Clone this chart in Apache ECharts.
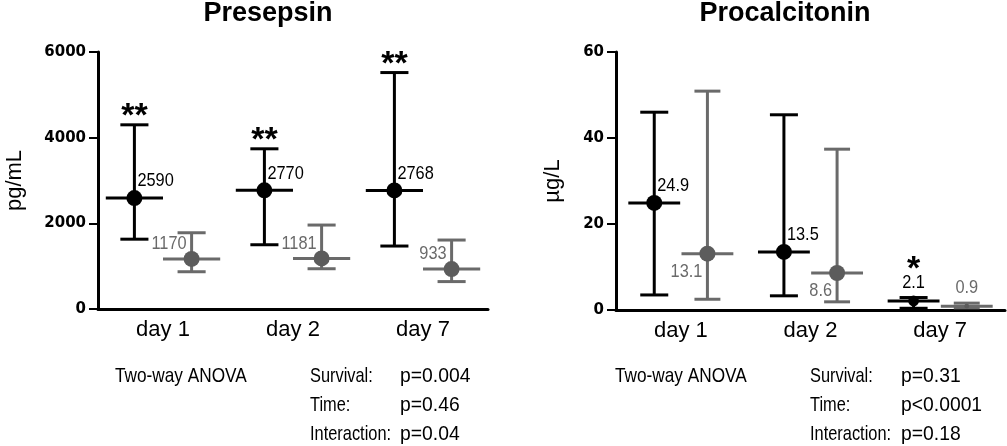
<!DOCTYPE html>
<html><head><meta charset="utf-8">
<script src="https://cdn.jsdelivr.net/npm/echarts@6.0.0/dist/echarts.min.js"></script>
<style>html,body{margin:0;padding:0;background:#fff}#c{width:1007px;height:446px}</style>
</head><body><div id="c"></div>
<script>
// ---------- data ----------
const categories = ['day 1', 'day 2', 'day 7'];

const presepsinBlackMedian = [2590, 2770, 2768];
const presepsinBlackLower  = [1630, 1500, 1470];
const presepsinBlackUpper  = [4300, 3740, 5520];
const presepsinGrayMedian  = [1170, 1181, 933];
const presepsinGrayLower   = [870, 940, 640];
const presepsinGrayUpper   = [1780, 1960, 1610];
const presepsinStars       = ['**', '**', '**'];

const pctBlackMedian = [24.9, 13.5, 2.1];
const pctBlackLower  = [3.5, 3.3, 0.4];
const pctBlackUpper  = [46.0, 45.4, 2.9];
const pctGrayMedian  = [13.1, 8.6, 0.9];
const pctGrayLower   = [2.5, 1.9, 0.5];
const pctGrayUpper   = [50.9, 37.4, 1.6];
const pctStars       = ['', '', '*'];

const titles = ['Presepsin', 'Procalcitonin'];
const unitNames = ['pg/mL', 'µg/L'];
const anovaHeader = 'Two-way ANOVA';
const anovaTerms = ['Survival:', 'Time:', 'Interaction:'];
const presepsinP = ['p=0.004', 'p=0.46', 'p=0.04'];
const pctP = ['p=0.31', 'p<0.0001', 'p=0.18'];

// ---------- styles ----------
const SANS = "'Liberation Sans',Arial,sans-serif";
const BOLDTICK = "'DejaVu Sans',sans-serif";
const LABEL_SCALE = 0.86;
const BLACK = '#000000', GRAY_LINE = '#6a6a6a', GRAY_DOT = '#5c5c5c', GRAY_TEXT = '#6a6a6a';

const PL = {
  tr: {dx: 3, dy: -17, align: 'left'},
  tl: {dx: -5, dy: -15, align: 'right'},
  bl: {dx: -5, dy: 18, align: 'right'},
  t:  {dx: 0, dy: -18, align: 'center'}
};

function errSeries(axisIdx, median, lower, upper, stars, st) {
  return {
    type: 'custom', xAxisIndex: axisIdx, yAxisIndex: axisIdx, clip: false,
    data: categories.map((c, i) => [i, median[i], lower[i], upper[i]]),
    renderItem(params, api) {
      const k = params.dataIndex;
      const i = api.value(0), m = api.value(1), lo = api.value(2), hi = api.value(3);
      const band = api.size([1, 0])[0];
      const p = api.coord([i, m]);
      const cx = p[0] + st.side * band * st.offset;
      const ym = p[1], yl = api.coord([i, lo])[1], yh = api.coord([i, hi])[1];
      const cap = band * st.cap, med = band * st.med;
      const ls = {stroke: st.line, lineWidth: 3};
      const ch = [
        {type: 'line', shape: {x1: cx, y1: yh, x2: cx, y2: yl}, style: ls},
        {type: 'line', shape: {x1: cx - cap, y1: yh, x2: cx + cap, y2: yh}, style: ls},
        {type: 'line', shape: {x1: cx - cap, y1: yl, x2: cx + cap, y2: yl}, style: ls},
        {type: 'line', shape: {x1: cx - med, y1: ym, x2: cx + med, y2: ym}, style: ls},
        {type: 'circle', shape: {cx: cx, cy: ym, r: Math.min(8, (yl - yh) / 2)}, style: {fill: st.dot}}
      ];
      const pl = PL[st.place[k]];
      const ly = ym + pl.dy;
      ch.push({type: 'text', x: cx + pl.dx, y: ly, scaleX: LABEL_SCALE,
        style: {text: String(m), font: '19px ' + SANS, fill: st.text, align: pl.align, verticalAlign: 'middle'}});
      if (stars && stars[k]) {
        const sc = st.place[k] === 't' ? ly - 21 : yh - 16;
        ch.push({type: 'text', x: cx, y: sc + 8,
          style: {text: stars[k], font: 'bold 34px ' + SANS, fill: BLACK, align: 'center', verticalAlign: 'middle'}});
      }
      return {type: 'group', children: ch};
    }
  };
}

function xAxisCfg(gi) {
  return {
    type: 'category', gridIndex: gi, data: categories, boundaryGap: true,
    axisLine: {show: true, lineStyle: {color: BLACK, width: 3}},
    axisTick: {show: false},
    axisLabel: {color: BLACK, fontSize: 22, fontFamily: SANS, margin: 10},
    splitLine: {show: false}
  };
}
function yAxisCfg(gi, max, interval, name, gap) {
  return {
    type: 'value', gridIndex: gi, min: 0, max: max, interval: interval,
    name: name, nameLocation: 'middle', nameGap: gap,
    nameTextStyle: {color: BLACK, fontSize: 22, fontFamily: SANS},
    axisLine: {show: true, lineStyle: {color: BLACK, width: 3}},
    axisTick: {show: true, length: 9, lineStyle: {color: BLACK, width: 2}},
    axisLabel: {color: BLACK, fontSize: 15, fontWeight: 'bold', fontFamily: BOLDTICK, margin: 12,
      formatter: v => String(v)},
    splitLine: {show: false}
  };
}

const graphic = [];
function addText(x, y, t, sx) {
  graphic.push({type: 'text', x: x, y: y, scaleX: sx,
    style: {text: t, font: '21px ' + SANS, fill: BLACK, verticalAlign: 'middle'}});
}
function anovaBlock(x0, xTerm, xP, pvals) {
  const rows = [376, 405, 434];
  addText(x0, rows[0], anovaHeader, 0.82);
  anovaTerms.forEach((t, r) => {
    addText(xTerm, rows[r], t, 0.78);
    addText(xP, rows[r], pvals[r], 0.92);
  });
}
anovaBlock(115, 310, 400, presepsinP);
anovaBlock(615, 810, 901, pctP);

const option = {
  backgroundColor: '#ffffff',
  animation: false,
  title: [
    {text: titles[0], left: 268, top: 0, padding: 0, textAlign: 'center',
     textStyle: {fontSize: 27, fontWeight: 'bold', fontFamily: SANS, color: BLACK}},
    {text: titles[1], left: 785, top: 0, padding: 0, textAlign: 'center',
     textStyle: {fontSize: 27, fontWeight: 'bold', fontFamily: SANS, color: BLACK}}
  ],
  grid: [
    {left: 98, top: 52, width: 390, height: 257},
    {left: 616, top: 52, width: 389, height: 258}
  ],
  xAxis: [xAxisCfg(0), xAxisCfg(1)],
  yAxis: [yAxisCfg(0, 6000, 2000, unitNames[0], 72), yAxisCfg(1, 60, 20, unitNames[1], 52)],
  graphic: graphic,
  series: [
    errSeries(0, presepsinBlackMedian, presepsinBlackLower, presepsinBlackUpper, presepsinStars,
      {side: -1, offset: 0.22, cap: 0.108, med: 0.22, line: BLACK, dot: BLACK, text: BLACK, place: ['tr', 'tr', 'tr']}),
    errSeries(0, presepsinGrayMedian, presepsinGrayLower, presepsinGrayUpper, null,
      {side: 1, offset: 0.22, cap: 0.108, med: 0.22, line: GRAY_LINE, dot: GRAY_DOT, text: GRAY_TEXT, place: ['tl', 'tl', 'tl']}),
    errSeries(1, pctBlackMedian, pctBlackLower, pctBlackUpper, pctStars,
      {side: -1, offset: 0.205, cap: 0.108, med: 0.2, line: BLACK, dot: BLACK, text: BLACK, place: ['tr', 'tr', 't']}),
    errSeries(1, pctGrayMedian, pctGrayLower, pctGrayUpper, null,
      {side: 1, offset: 0.205, cap: 0.1, med: 0.2, line: GRAY_LINE, dot: GRAY_DOT, text: GRAY_TEXT, place: ['bl', 'bl', 't']})
  ]
};
const chart = echarts.init(document.getElementById('c'));
chart.setOption(option);
</script>
</body></html>
